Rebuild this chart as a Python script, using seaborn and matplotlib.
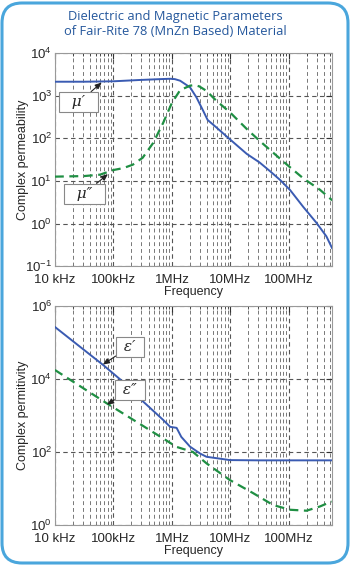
import numpy as np
import pandas as pd
import matplotlib
matplotlib.use('Agg')
import matplotlib.pyplot as plt
import matplotlib.ticker as mticker
from matplotlib.patches import FancyBboxPatch
import seaborn as sns

# ---- data (log10 of frequency in Hz) ----
mu_p_logf = [4.0, 4.5, 5.0, 5.45, 5.8, 5.97, 6.05, 6.14, 6.31, 6.42, 6.535, 6.61,
             6.76, 6.99, 7.28, 7.5, 7.675, 7.85, 8.02, 8.245, 8.47, 8.64, 8.74]
mu_p_val = [2130, 2130, 2180, 2340, 2450, 2500, 2450, 2250, 1570, 910, 440, 270,
            180, 95, 43, 27, 17, 10.5, 6.1, 2.45, 1.04, 0.5, 0.26]

mu_pp_logf = [4.0, 4.5, 4.77, 5.0, 5.17, 5.33, 5.5, 5.68, 5.85, 6.0, 6.14, 6.31,
              6.39, 6.47, 6.59, 6.76, 6.99, 7.28, 7.5, 7.79, 8.0, 8.245, 8.53, 8.74]
mu_pp_val = [12.6, 13, 14, 18, 20, 24, 35, 78, 230, 680, 1350, 1720,
             1780, 1650, 1300, 760, 410, 165, 87, 39, 22, 11.5, 6.2, 3.5]

eps_p_logf = [4.0, 4.83, 5.11, 5.45, 5.85, 5.97, 6.08, 6.16, 6.31, 6.48, 6.59,
              6.99, 7.5, 8.0, 8.73]
eps_p_val = [270000, 24000, 10000, 2950, 760, 490, 460, 260, 140, 91, 74,
             60, 59, 59, 59]

eps_pp_logf = [4.0, 4.88, 5.62, 6.08, 6.36, 6.59, 6.99, 7.39, 7.73, 8.02, 8.3,
               8.53, 8.73]
eps_pp_val = [17800, 2200, 400, 138, 100, 49, 17, 7.4, 3.5, 2.6, 2.45, 3.2, 4.4]

freq_ticks = [1e4, 1e5, 1e6, 1e7, 1e8]
freq_labels = ['10 kHz', '100kHz', '1MHz', '10MHz', '100MHz']

BLUE = '#3a5bb2'
GREEN = '#1f8f43'
GRID = '#555555'


def to_df(logf, val):
    return pd.DataFrame({'f': 10 ** np.array(logf), 'v': val})


def style_axes(ax, ylim, yticks, ylabel):
    ax.set_xscale('log')
    ax.set_yscale('log')
    ax.set_xlim(1e4, 10 ** 8.735)
    ax.set_ylim(*ylim)
    ax.set_xticks(freq_ticks)
    ax.set_xticklabels(freq_labels)
    ax.xaxis.set_minor_locator(mticker.LogLocator(base=10, subs=np.arange(2, 10)))
    ax.xaxis.set_minor_formatter(mticker.NullFormatter())
    ax.yaxis.set_major_locator(mticker.FixedLocator(yticks))
    ax.yaxis.set_major_formatter(mticker.LogFormatterSciNotation())
    ax.yaxis.set_minor_locator(mticker.NullLocator())
    ax.grid(True, which='major', axis='both', color=GRID, ls=(0, (4, 3)), lw=0.8)
    ax.grid(True, which='minor', axis='x', color='#777777', ls=(0, (4, 3)), lw=0.7)
    ax.tick_params(which='both', direction='in', top=True, right=True,
                   labelsize=9.5, color='#333333')
    ax.tick_params(axis='x', pad=6)
    ax.tick_params(axis='y', pad=2)
    ax.tick_params(which='major', length=4)
    ax.tick_params(which='minor', length=2)
    for s in ax.spines.values():
        s.set_color('#999999')
        s.set_linewidth(0.8)
    ax.set_xlabel('Frequency', fontsize=9, labelpad=0)
    ax.set_ylabel(ylabel, fontsize=9)
    ax.yaxis.set_label_coords(-0.095, 0.5)


sns.set_style('white')
plt.rcParams['font.family'] = ['Liberation Sans', 'DejaVu Sans']

fig = plt.figure(figsize=(3.52, 5.65), dpi=100)
card = FancyBboxPatch((0.02, 0.02), 3.46, 5.60,
                      boxstyle='round,pad=0,rounding_size=0.2',
                      transform=fig.dpi_scale_trans, fc='white',
                      ec='#4aa6dc', lw=2.2, zorder=-5)
fig.patches.append(card)

fig.text(0.497, 0.958, 'Dielectric and Magnetic Parameters\nof Fair-Rite 78 (MnZn Based) Material',
         ha='center', va='center', color='#24579c', fontsize=9.3,
         family=['Open Sans', 'DejaVu Sans'], linespacing=1.2)

ax1 = fig.add_axes([0.156, 0.529, 0.787, 0.377])
ax2 = fig.add_axes([0.156, 0.071, 0.787, 0.387])
for ax in (ax1, ax2):
    ax.patch.set_alpha(0)

# permeability
sns.lineplot(data=to_df(mu_p_logf, mu_p_val), x='f', y='v', ax=ax1,
             color=BLUE, lw=1.4, zorder=3)
sns.lineplot(data=to_df(mu_pp_logf, mu_pp_val), x='f', y='v', ax=ax1,
             color=GREEN, lw=1.6, zorder=3)
ax1.lines[-1].set_dashes([4, 2.5])
style_axes(ax1, (0.1, 1e4), [0.1, 1, 10, 100, 1e3, 1e4], 'Complex permeability')

# permittivity
sns.lineplot(data=to_df(eps_p_logf, eps_p_val), x='f', y='v', ax=ax2,
             color=BLUE, lw=1.4, zorder=3)
sns.lineplot(data=to_df(eps_pp_logf, eps_pp_val), x='f', y='v', ax=ax2,
             color=GREEN, lw=1.6, zorder=3)
ax2.lines[-1].set_dashes([4, 2.5])
style_axes(ax2, (1, 1e6), [1, 1e2, 1e4, 1e6], 'Complex permitivity')

box = dict(boxstyle='square,pad=0.2', fc='white', ec='#888888', lw=0.8)
arrow = dict(arrowstyle='-|>,head_length=0.35,head_width=0.15', color='#222222',
             lw=0.8, shrinkA=0, shrinkB=0)


def label(ax, text, xy, xytext):
    ax.annotate(text, xy=xy, xytext=xytext, fontsize=11, style='italic',
                ha='center', va='center', bbox=box, arrowprops=arrow, zorder=5,
                family=['DejaVu Serif', 'DejaVu Sans'])


label(ax1, '  μ′  ', (10 ** 4.80, 10 ** 3.31), (10 ** 4.41, 10 ** 2.85))
label(ax1, '  μ″  ', (10 ** 4.906, 10 ** 1.16), (10 ** 4.50, 10 ** 0.70))
label(ax2, ' ε′ ', (10 ** 4.82, 10 ** 4.40), (10 ** 5.28, 10 ** 4.89))
label(ax2, ' ε″ ', (10 ** 4.89, 10 ** 3.30), (10 ** 5.28, 10 ** 3.70))

fig.savefig('out.png', dpi=100)
